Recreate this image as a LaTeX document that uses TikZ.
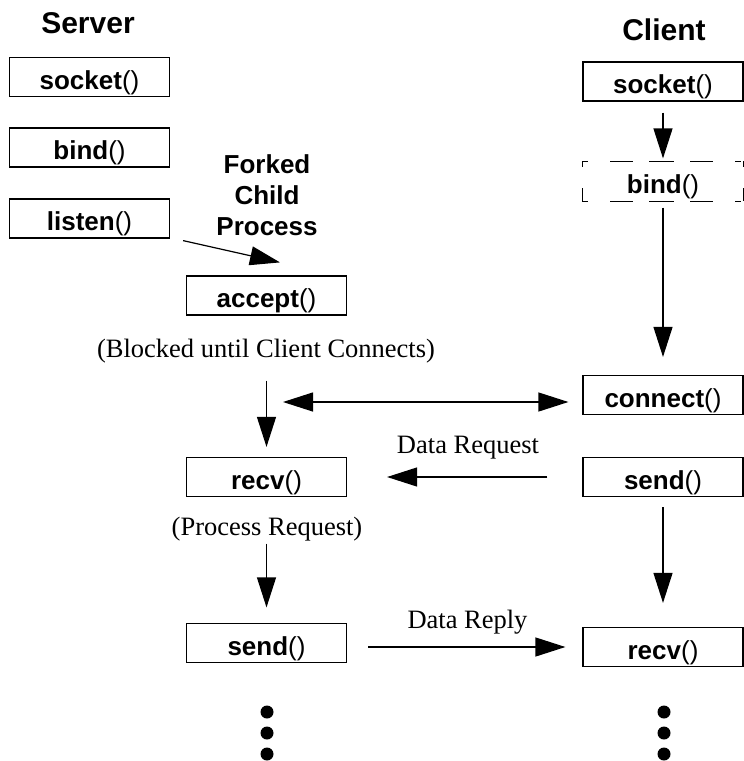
\documentclass[tikz,border=0pt]{standalone}
\usepackage{fontspec}
\setmainfont{Liberation Serif}
\setsansfont{Liberation Sans}
\usetikzlibrary{arrows.meta}

\begin{document}
\begin{tikzpicture}[x=1pt,y=-1pt,
  fnbox/.style={draw, line width=1.2pt, minimum width=160pt, minimum height=39pt,
    inner sep=0pt, text height=26pt, text depth=2pt,
    font=\sffamily\fontsize{26}{30}\selectfont},
  header/.style={inner sep=0pt, font=\sffamily\bfseries\fontsize{30}{36}\selectfont},
  boldlabel/.style={inner sep=0pt, align=center, font=\sffamily\bfseries\fontsize{26}{31}\selectfont},
  note/.style={inner sep=0pt, font=\rmfamily\fontsize{26.5}{30}\selectfont},
  arr/.style={-{Triangle[length=30pt,width=19pt]}, line width=1.2pt},
  darr/.style={{Triangle[length=30pt,width=19pt]}-{Triangle[length=30pt,width=19pt]}, line width=1.2pt},
  dashedge/.style={line width=1.2pt, line cap=rect},
]
\useasboundingbox (0,0) rectangle (744,761);

% column headings
\node[header, anchor=base] (srvhead) at (88,33) {Server};
\node[header, anchor=base] (clihead) at (664,40) {Client};

% server calls
\node[fnbox] (sock1)   at (89.5,77)    {\textbf{socket}()};
\node[fnbox] (bind1)   at (89.5,147.5) {\textbf{bind}()};
\node[fnbox] (listen1) at (89.5,218.5) {\textbf{listen}()};
\node[boldlabel] (fork) at (267,195) {Forked\\Child\\Process};
\node[fnbox] (accept1) at (266.5,295.5) {\textbf{accept}()};
\node[note, anchor=base] (blocked) at (266,357) {(Blocked until Client Connects)};
\node[fnbox] (recv1)   at (266.5,477)  {\textbf{recv}()};
\node[note, anchor=base] (process) at (267,535) {(Process Request)};
\node[fnbox] (send1)   at (266.5,643)  {\textbf{send}()};

% client calls
\begin{scope}[every node/.append style={minimum width=158pt}]
\node[fnbox] (sock2) at (663,81.5)  {\textbf{socket}()};
\node[fnbox, draw=none] (bind2) at (663,181.5) {\textbf{bind}()};
\node[fnbox] (conn2) at (663,395)   {\textbf{connect}()};
\node[fnbox] (send2) at (663,477)   {\textbf{send}()};
\node[fnbox] (recv2) at (663,647)   {\textbf{recv}()};
\end{scope}

% optional bind(): dashed outline
\draw[dashedge, dash pattern=on 5pt off 23pt on 22pt off 17pt on 24pt off 17pt on 22pt off 23pt on 5pt]
  (bind2.north west) -- (bind2.north east);
\draw[dashedge, dash pattern=on 5pt off 23pt on 22pt off 17pt on 24pt off 17pt on 22pt off 23pt on 5pt]
  (bind2.south west) -- (bind2.south east);
\draw[dashedge, dash pattern=on 5pt off 22pt on 12pt] (bind2.north west) -- (bind2.south west);
\draw[dashedge, dash pattern=on 5pt off 22pt on 12pt] (bind2.north east) -- (bind2.south east);

% flow within each side
\draw[arr] ([shift={(13,2)}]listen1.south east) -- ([shift={(13.5,-13)}]accept1.north);
\draw[arr, shorten <=65pt, shorten >=10pt] (accept1) -- (recv1);
\draw[arr, shorten <=46.5pt, shorten >=15.5pt] (recv1) -- (send1);
\draw[arr, shorten <=11pt, shorten >=3pt] (sock2) -- (bind2);
\draw[arr, shorten <=6pt, shorten >=18pt] (bind2) -- (conn2);
\draw[arr, shorten <=10pt, shorten >=24pt] (send2) -- (recv2);

% messages between server and client
\coordinate (joinL) at (283,402);
\draw[darr, shorten >=14pt] (joinL) -- (joinL -| conn2.west);
\draw[arr, shorten <=35pt, shorten >=40pt] (send2.west) -- (recv1.east);
\node[note, anchor=base] (dreq) at (468,453) {Data Request};
\draw[arr, shorten <=21pt, shorten >=17pt] (send1.east |- recv2.west) -- (recv2.west);
\node[note, anchor=base] (drep) at (467.5,628) {Data Reply};

% continuation dots
\foreach \yy in {712,733,754} {
  \fill (267,\yy) circle[radius=6.5pt];
  \fill (664,\yy) circle[radius=6.5pt];
}
\end{tikzpicture}
\end{document}
